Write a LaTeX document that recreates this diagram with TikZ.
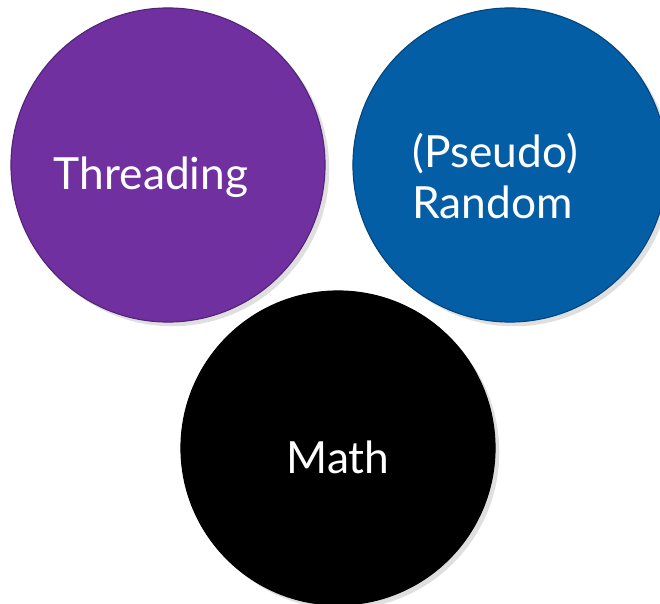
\documentclass[tikz,border=0pt]{standalone}
\usepackage{fontspec}
\setmainfont{Lato}
\usetikzlibrary{shadows}

\definecolor{topicpurple}{HTML}{7030A0}
\definecolor{topicblue}{HTML}{045EA6}

\tikzset{
    topic/.style={circle, fill=#1, draw=#1!75!black, line width=0.8pt,
        minimum size=7.85cm, inner sep=0pt,
        drop shadow={shadow xshift=3pt, shadow yshift=-3pt, opacity=0.25}},
    topictext/.style={text=white, font=\fontsize{31.5}{36}\selectfont, align=left, inner sep=0pt}
}

\begin{document}
\begin{tikzpicture}[x=0.025cm, y=-0.025cm]
    % Page size (pixels of the slide)
    \def\pagewidth{660}
    \def\pageheight{604}
    \useasboundingbox (0,0) rectangle (\pagewidth,\pageheight);

    % The three circles
    \node[topic=topicpurple] (threading) at (168,165) {};
    \node[topic=topicblue] (random) at (510,165) {};
    \node[topic=black, draw=black] (math) at (338,448) {};

    % Labels
    \node[topictext] (threadinglabel) at (151,177) {Threading};
    \node[topictext] (randomlabel) at (495,176) {(Pseudo)\\Random};
    \node[topictext] (mathlabel) at (338,457) {Math};
\end{tikzpicture}
\end{document}
